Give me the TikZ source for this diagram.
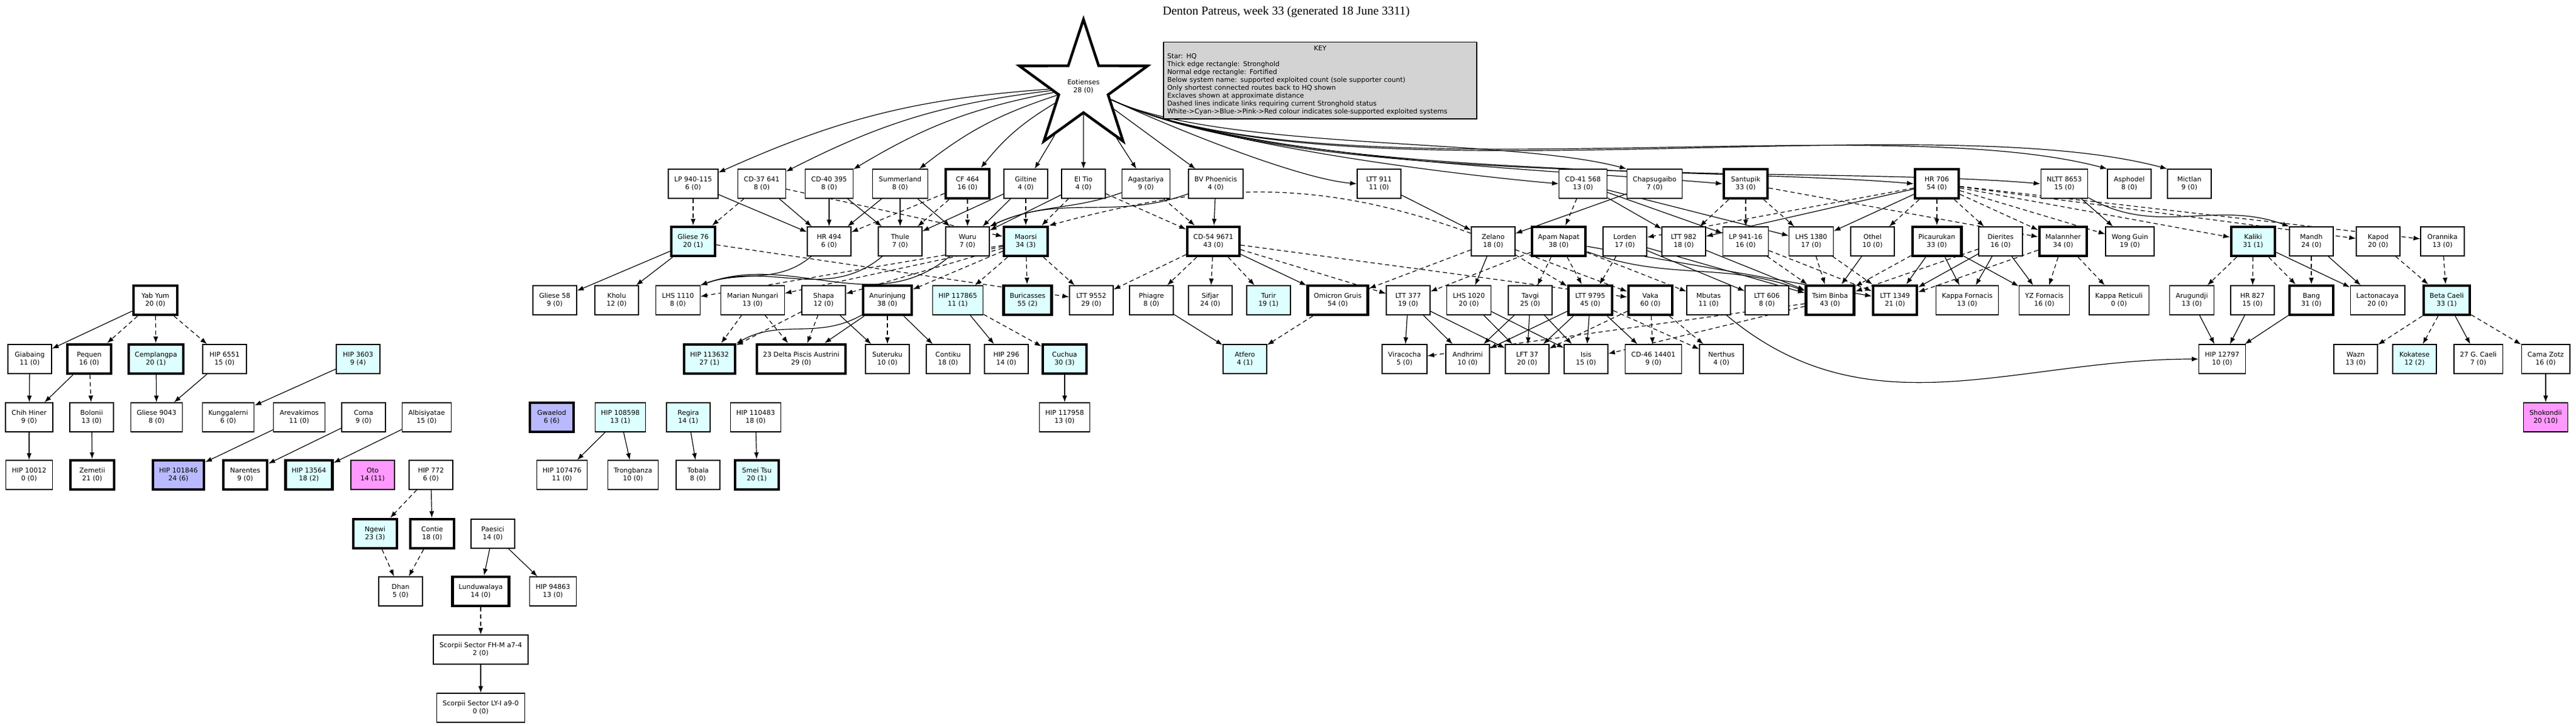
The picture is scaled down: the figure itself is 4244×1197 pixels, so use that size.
\documentclass[tikz,border=0pt]{standalone}
\usepackage{fontspec}
\setmainfont{DejaVu Sans}
\newfontfamily\titlefont{Liberation Serif}
\usetikzlibrary{arrows.meta,shapes.geometric,backgrounds}
\definecolor{syscyan}{HTML}{DDFFFF}
\definecolor{sysblue}{HTML}{B9B9FF}
\definecolor{syspink}{HTML}{FF99FF}
\definecolor{keygrey}{HTML}{D3D3D3}
\begin{document}
\begin{tikzpicture}[x=0.25pt,y=-0.25pt,
    every node/.style={font=\fontsize{2.75}{3.25}\selectfont},
    sys/.style={draw, line width=0.33pt, fill=white, align=center, inner xsep=2.5pt, inner ysep=0.75pt, minimum width=18pt, minimum height=12pt},
    sh/.style={sys, line width=1.1pt},
    cy/.style={fill=syscyan}, bl/.style={fill=sysblue}, pk/.style={fill=syspink},
    e/.style={-{Latex[length=2.75pt,width=2pt]}, line width=0.3pt},
    d/.style={e, dash pattern=on 1.75pt off 1.25pt},
    key/.style={draw, line width=0.33pt, fill=keygrey, text width=126pt, align=left, inner sep=1.5pt}]
    \useasboundingbox (0,0) rectangle (4244,1197);
    \node[font=\titlefont\fontsize{5}{6}\selectfont] (title) at (2119,20) {Denton Patreus, week 33 (generated 18 June 3311)};
    \node[key] (key) at (2175,133) {\hfill KEY\hfill\null\\Star: HQ\\Thick edge rectangle: Stronghold\\Normal edge rectangle: Fortified\\Below system name: supported exploited count (sole supporter count)\\Only shortest connected routes back to HQ shown\\Exclaves shown at approximate distance\\Dashed lines indicate links requiring current Stronghold status\\White->Cyan->Blue->Pink->Red colour indicates sole-supported exploited systems};
    \node[star, star points=5, star point ratio=2.6, minimum size=55.5pt, draw, line width=1.1pt, fill=white, align=center, inner sep=0pt] (hq) at (1785,143) {Eotienses\\28 (0)};
    % row A
    \node[sys] (lp940) at (1142,303) {LP 940-115\\6 (0)};
    \node[sys] (cd37) at (1255,303) {CD-37 641\\8 (0)};
    \node[sys] (cd40) at (1366,303) {CD-40 395\\8 (0)};
    \node[sys] (summer) at (1483,303) {Summerland\\8 (0)};
    \node[sh] (cf464) at (1594,303) {CF 464\\16 (0)};
    \node[sys] (giltine) at (1690,303) {Giltine\\4 (0)};
    \node[sys] (eltio) at (1785,303) {El Tio\\4 (0)};
    \node[sys] (agast) at (1888,303) {Agastariya\\9 (0)};
    \node[sys] (bvph) at (2003,303) {BV Phoenicis\\4 (0)};
    \node[sys] (ltt911) at (2272,303) {LTT 911\\11 (0)};
    \node[sys] (cd41) at (2608,303) {CD-41 568\\13 (0)};
    \node[sys] (chaps) at (2726,303) {Chapsugaibo\\7 (0)};
    \node[sh] (santupik) at (2876,303) {Santupik\\33 (0)};
    \node[sh] (hr706) at (3191,303) {HR 706\\54 (0)};
    \node[sys] (nltt) at (3401,303) {NLTT 8653\\15 (0)};
    \node[sys] (asphodel) at (3508,303) {Asphodel\\8 (0)};
    \node[sys] (mictlan) at (3607,303) {Mictlan\\9 (0)};
    % row B
    \node[sh,cy] (gliese76) at (1142,398) {Gliese 76\\20 (1)};
    \node[sys] (hr494) at (1366,398) {HR 494\\6 (0)};
    \node[sys] (thule) at (1483,398) {Thule\\7 (0)};
    \node[sys] (wuru) at (1594,398) {Wuru\\7 (0)};
    \node[sh,cy] (maorsi) at (1690,398) {Maorsi\\34 (3)};
    \node[sh] (cd54) at (1999,398) {CD-54 9671\\43 (0)};
    \node[sys] (zelano) at (2460,398) {Zelano\\18 (0)};
    \node[sh] (apam) at (2568,398) {Apam Napat\\38 (0)};
    \node[sys] (lorden) at (2677,398) {Lorden\\17 (0)};
    \node[sys] (ltt982) at (2774,398) {LTT 982\\18 (0)};
    \node[sys] (lp941) at (2876,398) {LP 941-16\\16 (0)};
    \node[sys] (lhs1380) at (2984,398) {LHS 1380\\17 (0)};
    \node[sys] (othel) at (3085,398) {Othel\\10 (0)};
    \node[sh] (picau) at (3191,398) {Picaurukan\\33 (0)};
    \node[sys] (dierites) at (3296,398) {Dierites\\16 (0)};
    \node[sh] (malann) at (3399,398) {Malannher\\34 (0)};
    \node[sys] (wongguin) at (3509,398) {Wong Guin\\19 (0)};
    \node[sh,cy] (kaliki) at (3712,398) {Kaliki\\31 (1)};
    \node[sys] (mandh) at (3808,398) {Mandh\\24 (0)};
    \node[sys] (kapod) at (3918,398) {Kapod\\20 (0)};
    \node[sys] (orannika) at (4024,398) {Orannika\\13 (0)};
    % row C
    \node[sh] (yabyum) at (256,495) {Yab Yum\\20 (0)};
    \node[sys] (gliese58) at (914,495) {Gliese 58\\9 (0)};
    \node[sys] (kholu) at (1016,495) {Kholu\\12 (0)};
    \node[sys] (lhs1110) at (1117,495) {LHS 1110\\8 (0)};
    \node[sys] (marian) at (1240,495) {Marian Nungari\\13 (0)};
    \node[sys] (shapa) at (1357,495) {Shapa\\12 (0)};
    \node[sh] (anurin) at (1462,495) {Anurinjung\\38 (0)};
    \node[sys,cy] (hip117865) at (1578,495) {HIP 117865\\11 (1)};
    \node[sh,cy] (buric) at (1693,495) {Buricasses\\55 (2)};
    \node[sys] (ltt9552) at (1798,495) {LTT 9552\\29 (0)};
    \node[sys] (phiagre) at (1897,495) {Phiagre\\8 (0)};
    \node[sys] (sifjar) at (1994,495) {Sifjar\\24 (0)};
    \node[sys,cy] (turir) at (2090,495) {Turir\\19 (1)};
    \node[sh] (omicron) at (2204,495) {Omicron Gruis\\54 (0)};
    \node[sys] (ltt377) at (2320,495) {LTT 377\\19 (0)};
    \node[sys] (lhs1020) at (2420,495) {LHS 1020\\20 (0)};
    \node[sys] (tavgi) at (2521,495) {Tavgi\\25 (0)};
    \node[sh] (ltt9795) at (2620,495) {LTT 9795\\45 (0)};
    \node[sh] (vaka) at (2719,495) {Vaka\\60 (0)};
    \node[sys] (mbutas) at (2815,495) {Mbutas\\11 (0)};
    \node[sys] (ltt606) at (2911,495) {LTT 606\\8 (0)};
    \node[sh] (tsim) at (3015,495) {Tsim Binba\\43 (0)};
    \node[sh] (ltt1349) at (3122,495) {LTT 1349\\21 (0)};
    \node[sys] (kappafor) at (3241,495) {Kappa Fornacis\\13 (0)};
    \node[sys] (yzfor) at (3368,495) {YZ Fornacis\\16 (0)};
    \node[sys] (kapparet) at (3491,495) {Kappa Reticuli\\0 (0)};
    \node[sys] (arug) at (3611,495) {Arugundji\\13 (0)};
    \node[sys] (hr827) at (3711,495) {HR 827\\15 (0)};
    \node[sh] (bang) at (3808,495) {Bang\\31 (0)};
    \node[sys] (lacto) at (3917,495) {Lactonacaya\\20 (0)};
    \node[sh,cy] (betacaeli) at (4031,495) {Beta Caeli\\33 (1)};
    % row D
    \node[sys] (giabaing) at (49,592) {Giabaing\\11 (0)};
    \node[sh] (pequen) at (147,592) {Pequen\\16 (0)};
    \node[sh,cy] (cemplang) at (257,592) {Cemplangpa\\20 (1)};
    \node[sys] (hip6551) at (370,592) {HIP 6551\\15 (0)};
    \node[sys,cy] (hip3603) at (590,592) {HIP 3603\\9 (4)};
    \node[sh,cy] (hip113632) at (1169,592) {HIP 113632\\27 (1)};
    \node[sh] (delta) at (1320,592) {23 Delta Piscis Austrini\\29 (0)};
    \node[sys] (suteruku) at (1462,592) {Suteruku\\10 (0)};
    \node[sys] (contiku) at (1562,592) {Contiku\\18 (0)};
    \node[sys] (hip296) at (1658,592) {HIP 296\\14 (0)};
    \node[sh,cy] (cuchua) at (1754,592) {Cuchua\\30 (3)};
    \node[sys,cy] (atfero) at (2051,592) {Atfero\\4 (1)};
    \node[sys] (viracocha) at (2314,592) {Viracocha\\5 (0)};
    \node[sys] (andhrimi) at (2418,592) {Andhrimi\\10 (0)};
    \node[sys] (lft37) at (2516,592) {LFT 37\\20 (0)};
    \node[sys] (isis) at (2613,592) {Isis\\15 (0)};
    \node[sys] (cd46) at (2724,592) {CD-46 14401\\9 (0)};
    \node[sys] (nerthus) at (2836,592) {Nerthus\\4 (0)};
    \node[sys] (hip12797) at (3661,592) {HIP 12797\\10 (0)};
    \node[sys] (wazn) at (3881,592) {Wazn\\13 (0)};
    \node[sys,cy] (kokatese) at (3978,592) {Kokatese\\12 (2)};
    \node[sys] (gcaeli) at (4083,592) {27 G. Caeli\\7 (0)};
    \node[sys] (camazotz) at (4194,592) {Cama Zotz\\16 (0)};
    % row E
    \node[sys] (chihhiner) at (48,688) {Chih Hiner\\9 (0)};
    \node[sys] (bolonii) at (151,688) {Bolonii\\13 (0)};
    \node[sys] (gliese9043) at (258,688) {Gliese 9043\\8 (0)};
    \node[sys] (kungg) at (376,688) {Kunggalerni\\6 (0)};
    \node[sys] (arevak) at (493,688) {Arevakimos\\11 (0)};
    \node[sys] (coma) at (599,688) {Coma\\9 (0)};
    \node[sys] (albis) at (703,688) {Albisiyatae\\15 (0)};
    \node[sh,bl] (gwaelod) at (909,688) {Gwaelod\\6 (6)};
    \node[sys,cy] (hip108598) at (1022,688) {HIP 108598\\13 (1)};
    \node[sys,cy] (regira) at (1134,688) {Regira\\14 (1)};
    \node[sys] (hip110483) at (1245,688) {HIP 110483\\18 (0)};
    \node[sys] (hip117958) at (1754,688) {HIP 117958\\13 (0)};
    \node[sys,pk] (shokondii) at (4194,688) {Shokondii\\20 (10)};
    % row F
    \node[sys] (hip10012) at (48,783) {HIP 10012\\0 (0)};
    \node[sh] (zemetii) at (152,783) {Zemetii\\21 (0)};
    \node[sh,bl] (hip101846) at (294,783) {HIP 101846\\24 (6)};
    \node[sh] (narentes) at (404,783) {Narentes\\9 (0)};
    \node[sh,cy] (hip13564) at (509,783) {HIP 13564\\18 (2)};
    \node[sys,pk] (oto) at (614,783) {Oto\\14 (11)};
    \node[sys] (hip772) at (710,783) {HIP 772\\6 (0)};
    \node[sys] (hip107476) at (926,783) {HIP 107476\\11 (0)};
    \node[sys] (trongbanza) at (1043,783) {Trongbanza\\10 (0)};
    \node[sys] (tobala) at (1150,783) {Tobala\\8 (0)};
    \node[sh,cy] (smeitsu) at (1247,783) {Smei Tsu\\20 (1)};
    % rows G to J
    \node[sh,cy] (ngewi) at (618,880) {Ngewi\\23 (3)};
    \node[sh] (contie) at (712,880) {Contie\\18 (0)};
    \node[sys] (paesici) at (812,880) {Paesici\\14 (0)};
    \node[sys] (dhan) at (660,975) {Dhan\\5 (0)};
    \node[sh] (lundu) at (792,975) {Lunduwalaya\\14 (0)};
    \node[sys] (hip94863) at (911,975) {HIP 94863\\13 (0)};
    \node[sys] (scorpfh) at (792,1071) {Scorpii Sector FH-M a7-4\\2 (0)};
    \node[sys] (scorply) at (792,1167) {Scorpii Sector LY-I a9-0\\0 (0)};
    \begin{pgfonlayer}{background}
    % links from HQ
    \foreach \n in {lp940,cd37,cd40,summer,cf464}
        \draw[e] (hq) to[bend right=10] (\n);
    \foreach \n in {giltine,eltio,agast,bvph}
        \draw[e] (hq) -- (\n);
    \foreach \n in {ltt911,cd41,santupik,hr706,nltt}
        \draw[e] (hq) to[out=-25,in=175,looseness=0.6] (\n.west);
    \foreach \n in {chaps,asphodel,mictlan}
        \draw[e] (hq) to[out=-25,in=165,looseness=0.6] (\n.north west);
    % solid links
    \foreach \a/\b in {lp940/hr494,cd37/hr494,cd40/hr494,cd40/thule,summer/hr494,summer/thule,summer/wuru,
        giltine/thule,giltine/wuru,eltio/wuru,bvph/cd54,ltt911/zelano,cd41/ltt982,cd41/lp941,cd41/lhs1380,
        chaps/zelano,hr706/ltt982,hr706/lhs1380,nltt/wongguin,
        gliese76/gliese58,gliese76/kholu,cd54/omicron,zelano/lhs1020,apam/ltt1349,lorden/ltt606,
        lorden/tsim,ltt982/tsim,othel/tsim,picau/ltt1349,picau/kappafor,picau/yzfor,dierites/ltt1349,
        dierites/kappafor,dierites/yzfor,kaliki/lacto,mandh/lacto,
        shapa/suteruku,anurin/delta,anurin/contiku,hip117865/hip296,phiagre/atfero,
        ltt377/viracocha,ltt377/andhrimi,ltt377/lft37,lhs1020/lft37,lhs1020/isis,tavgi/andhrimi,tavgi/lft37,
        tavgi/isis,ltt9795/andhrimi,ltt9795/lft37,ltt9795/isis,ltt9795/cd46,arug/hip12797,hr827/hip12797,
        bang/hip12797,betacaeli/gcaeli,cuchua/hip117958,camazotz/shokondii,
        yabyum/giabaing,giabaing/chihhiner,pequen/chihhiner,cemplang/gliese9043,hip6551/gliese9043,
        hip3603/kungg,chihhiner/hip10012,bolonii/zemetii,arevak/hip101846,coma/narentes,albis/hip13564,
        hip772/contie,paesici/lundu,paesici/hip94863,scorpfh/scorply,
        hip108598/hip107476,hip108598/trongbanza,regira/tobala,hip110483/smeitsu}
        \draw[e] (\a) -- (\b);
    \draw[e] (anurin) to[out=210,in=30] (hip113632);
    \foreach \n in {agast,bvph}
        \draw[e] (\n) to[out=200,in=25] (wuru.north east);
    \foreach \n in {hr494,thule,wuru}
        \draw[e] (\n) to[out=220,in=20] (lhs1110.north east);
    \draw[e] (apam) to[out=-20,in=160] (tsim);
    \draw[e] (nltt) to[out=-30,in=160] (mandh.north west);
    \draw[e] (mbutas) to[out=-40,in=180] (hip12797.west);
    % dashed links
    \foreach \a/\b in {lp940/gliese76,cd37/gliese76,cd37/maorsi,cf464/hr494,cf464/thule,cf464/wuru,
        giltine/maorsi,eltio/maorsi,eltio/cd54,agast/cd54,cd41/apam,santupik/ltt982,santupik/lp941,
        santupik/lhs1380,santupik/malann,hr706/lorden,hr706/othel,hr706/picau,hr706/dierites,hr706/malann,
        hr706/wongguin,hr706/kaliki,hr706/kapod,hr706/orannika,
        gliese76/ltt9552,maorsi/lhs1110,maorsi/marian,maorsi/shapa,maorsi/anurin,maorsi/hip117865,
        maorsi/buric,maorsi/ltt9552,cd54/ltt9552,cd54/phiagre,cd54/sifjar,cd54/turir,cd54/ltt377,cd54/vaka,
        zelano/omicron,zelano/ltt9795,zelano/vaka,apam/ltt377,apam/tavgi,apam/ltt9795,apam/mbutas,
        lorden/ltt9795,lp941/tsim,lp941/ltt1349,lhs1380/tsim,lhs1380/ltt1349,picau/tsim,dierites/tsim,
        malann/ltt1349,malann/yzfor,malann/kapparet,kaliki/arug,kaliki/hr827,kaliki/bang,mandh/bang,
        kapod/betacaeli,orannika/betacaeli,
        marian/hip113632,marian/delta,shapa/hip113632,shapa/delta,anurin/suteruku,hip117865/cuchua,
        omicron/atfero,ltt9795/nerthus,vaka/lft37,vaka/cd46,vaka/nerthus,tsim/viracocha,tsim/isis,
        betacaeli/wazn,betacaeli/kokatese,betacaeli/camazotz,
        yabyum/pequen,yabyum/cemplang,yabyum/hip6551,pequen/bolonii,hip772/ngewi,ngewi/dhan,contie/dhan,
        lundu/scorpfh}
        \draw[d] (\a) -- (\b);
    \draw[d] (zelano) to[out=160,in=15] (maorsi.north east);
    \end{pgfonlayer}
\end{tikzpicture}
\end{document}
